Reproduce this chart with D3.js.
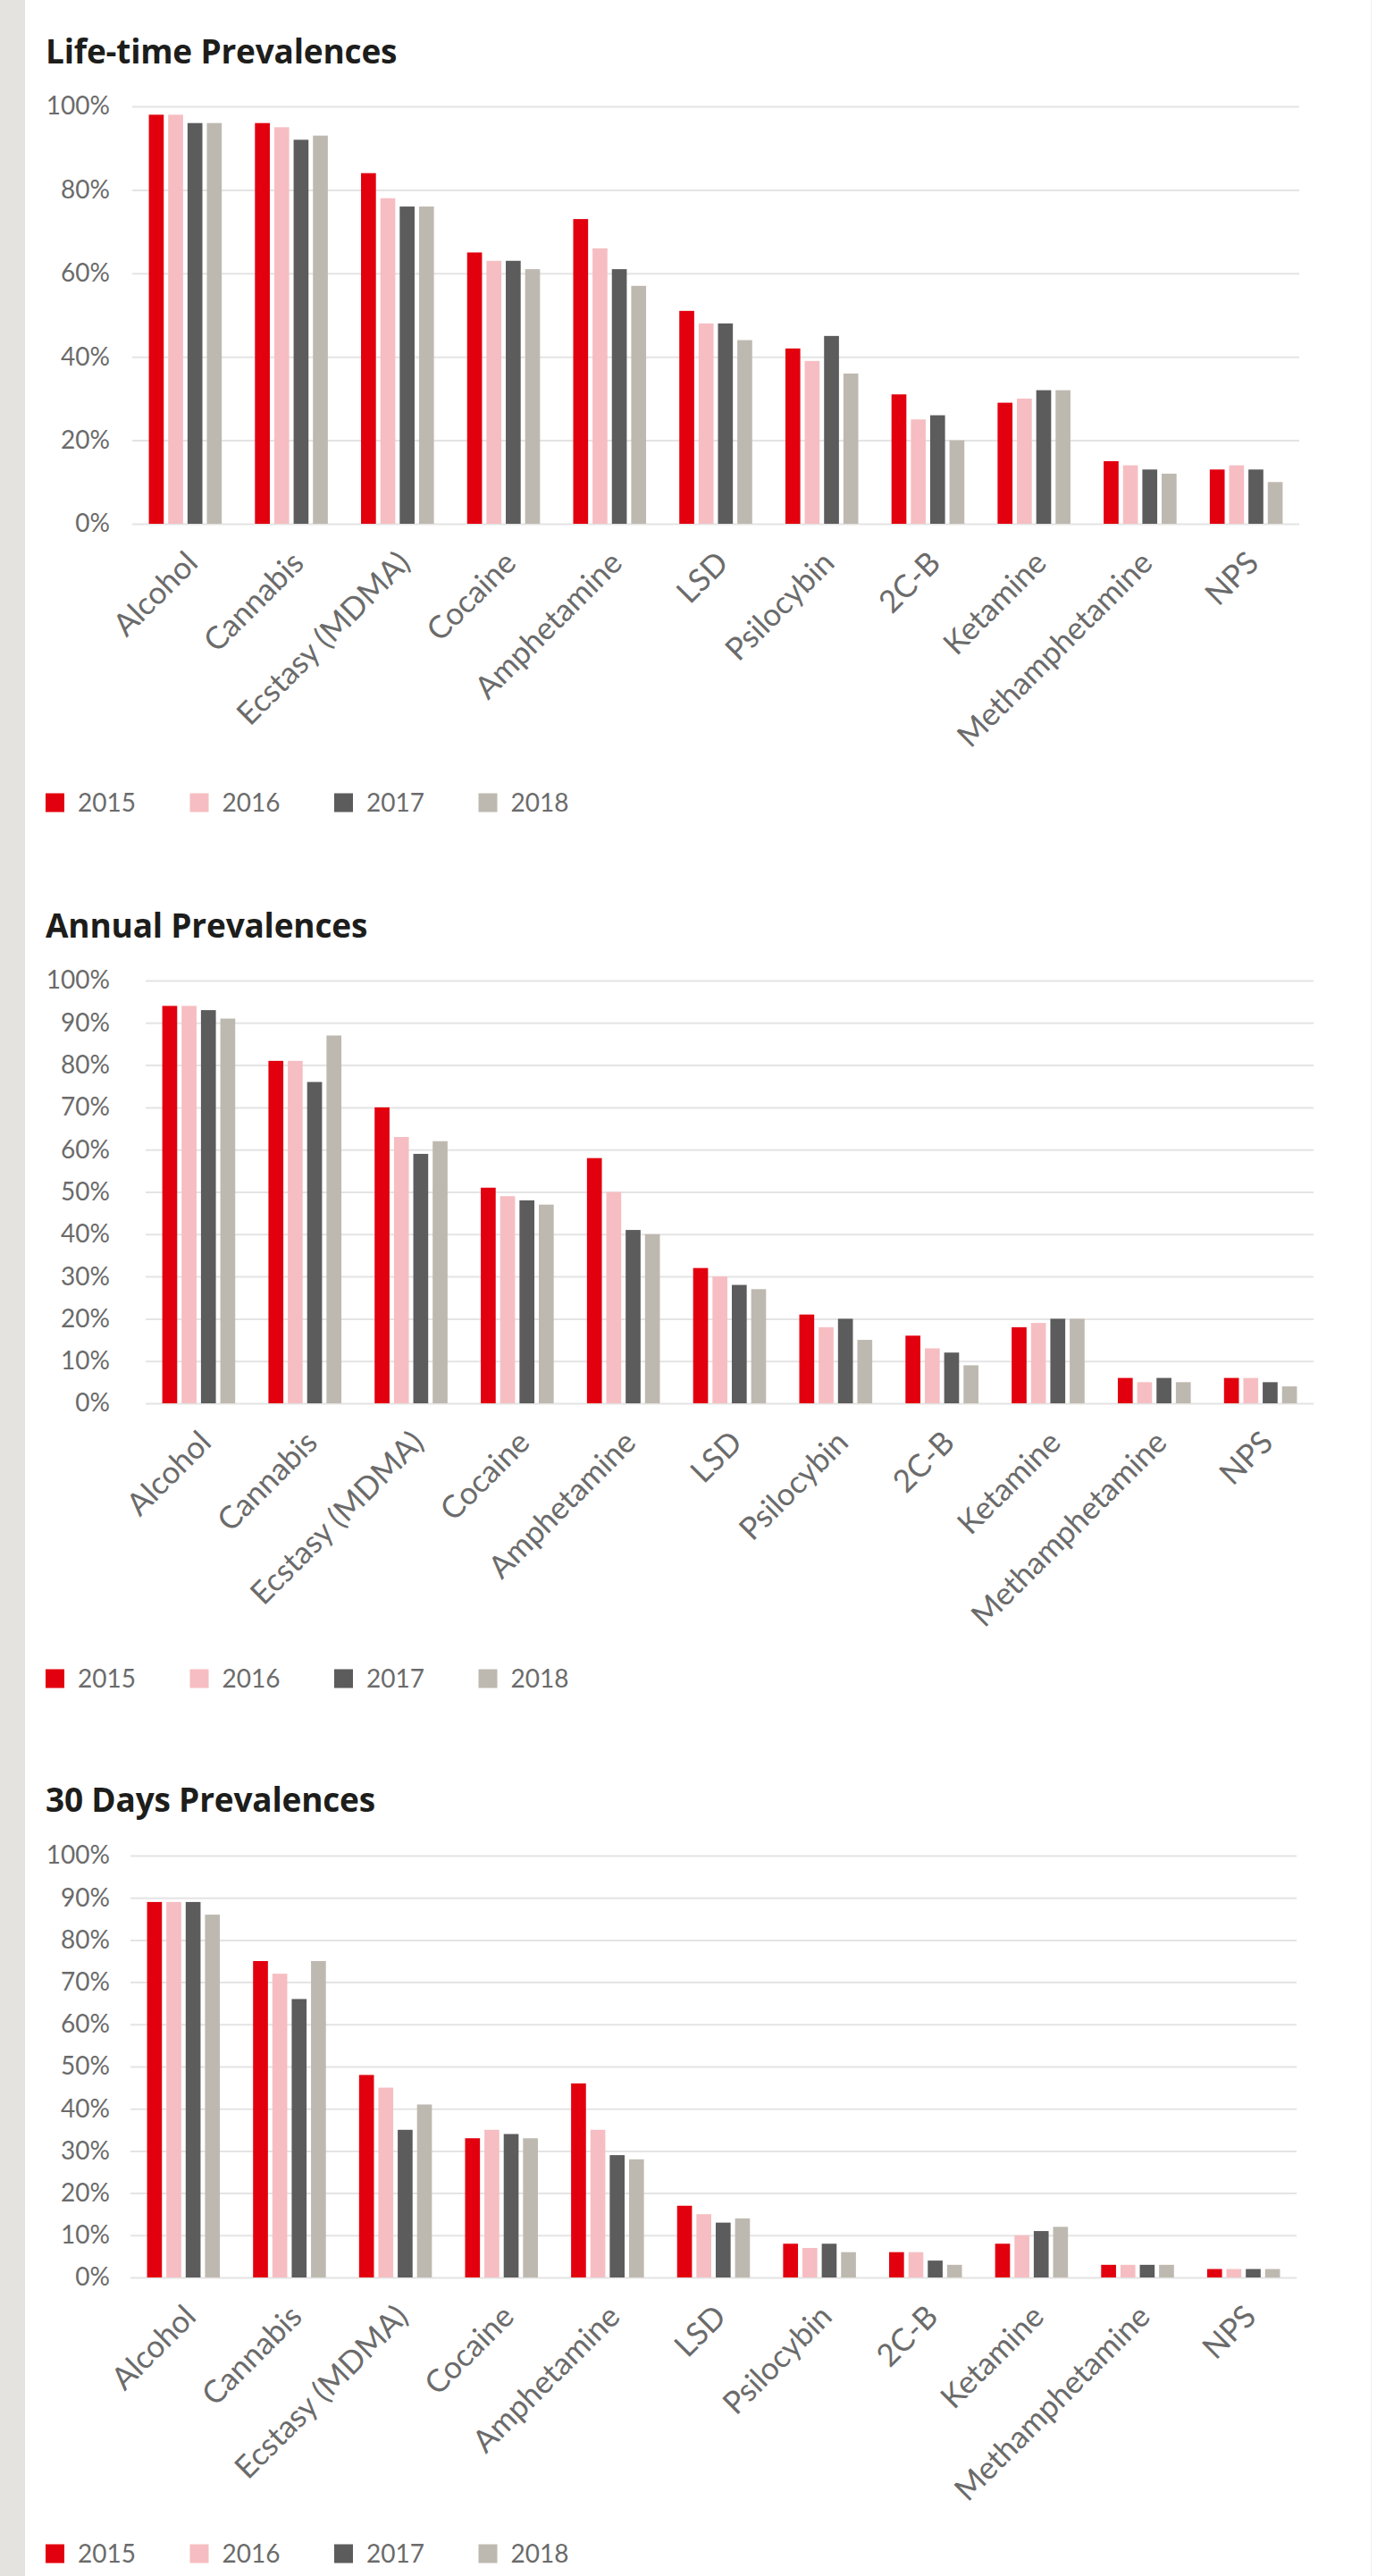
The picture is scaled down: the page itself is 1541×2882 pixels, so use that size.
<!DOCTYPE html>
<html>
<head>
<meta charset="utf-8">
<script src="https://cdn.jsdelivr.net/npm/d3@7"></script>
<style>
  html, body { margin: 0; padding: 0; background: #ffffff; }
  svg { display: block; }
</style>
</head>
<body>
<svg id="chart" width="1541" height="2882"></svg>
<script>
// ---------- DATA ----------
const categories = ["Alcohol", "Cannabis", "Ecstasy (MDMA)", "Cocaine", "Amphetamine", "LSD",
  "Psilocybin", "2C-B", "Ketamine", "Methamphetamine", "NPS"];
const years = ["2015", "2016", "2017", "2018"];
const yearColors = ["#e2000f", "#f6bec2", "#5c5c5c", "#beb9b0"];

const lifetime2015 = [98, 96, 84, 65, 73, 51, 42, 31, 29, 15, 13];
const lifetime2016 = [98, 95, 78, 63, 66, 48, 39, 25, 30, 14, 14];
const lifetime2017 = [96, 92, 76, 63, 61, 48, 45, 26, 32, 13, 13];
const lifetime2018 = [96, 93, 76, 61, 57, 44, 36, 20, 32, 12, 10];

const annual2015 = [94, 81, 70, 51, 58, 32, 21, 16, 18, 6, 6];
const annual2016 = [94, 81, 63, 49, 50, 30, 18, 13, 19, 5, 6];
const annual2017 = [93, 76, 59, 48, 41, 28, 20, 12, 20, 6, 5];
const annual2018 = [91, 87, 62, 47, 40, 27, 15, 9, 20, 5, 4];

const days2015 = [89, 75, 48, 33, 46, 17, 8, 6, 8, 3, 2];
const days2016 = [89, 72, 45, 35, 35, 15, 7, 6, 10, 3, 2];
const days2017 = [89, 66, 35, 34, 29, 13, 8, 4, 11, 3, 2];
const days2018 = [86, 75, 41, 33, 28, 14, 6, 3, 12, 3, 2];

const lifetimeTicks = [0, 20, 40, 60, 80, 100];
const tenTicks = [0, 10, 20, 30, 40, 50, 60, 70, 80, 90, 100];

const titles = ["Life-time Prevalences", "Annual Prevalences", "30 Days Prevalences"];

// ---------- LAYOUT ----------
const FONT = "Lato, 'Open Sans', sans-serif";
const TITLE_FONT = "'Open Sans', Lato, sans-serif";
const svg = d3.select("#chart");

svg.append("rect").attr("x", 0).attr("y", 0).attr("width", 1541).attr("height", 2882).attr("fill", "#ffffff");
svg.append("rect").attr("x", 0).attr("y", 0).attr("width", 28).attr("height", 2882).attr("fill", "#e4e3df");
svg.append("rect").attr("x", 1534).attr("y", 0).attr("width", 1).attr("height", 2882).attr("fill", "#f0f0f0");

const panels = [
  { title: titles[0], series: [lifetime2015, lifetime2016, lifetime2017, lifetime2018], ticks: lifetimeTicks,
    titleY: 71, top: 119, bottom: 586, left: 148, right: 1454, legendY: 898 },
  { title: titles[1], series: [annual2015, annual2016, annual2017, annual2018], ticks: tenTicks,
    titleY: 1049, top: 1097, bottom: 1570, left: 163, right: 1470, legendY: 1878 },
  { title: titles[2], series: [days2015, days2016, days2017, days2018], ticks: tenTicks,
    titleY: 2027, top: 2076, bottom: 2548, left: 146, right: 1451, legendY: 2857 }
];

panels.forEach(p => {
  const g = svg.append("g");

  g.append("text")
    .attr("x", 51).attr("y", p.titleY)
    .attr("font-family", TITLE_FONT).attr("font-weight", 700).attr("font-size", 37)
    .attr("letter-spacing", "-0.2")
    .attr("fill", "#1d1d1b")
    .text(p.title);

  const y = d3.scaleLinear().domain([0, 100]).range([p.bottom, p.top]);
  const x0 = d3.scaleBand().domain(categories).range([p.left, p.right])
    .paddingInner(0.313).paddingOuter(0.1565);
  const x1 = d3.scaleBand().domain(years).range([0, x0.bandwidth()]).paddingInner(0.23);

  // gridlines + y labels via axis
  const yAxis = d3.axisLeft(y).tickValues(p.ticks).tickFormat(d => d + "%")
    .tickSize(-(p.right - p.left)).tickPadding(p.left - 123);
  const ya = g.append("g").attr("transform", `translate(${p.left},0)`).call(yAxis);
  ya.select(".domain").remove();
  ya.selectAll(".tick line").attr("stroke", "#e4e4e4").attr("stroke-width", 2);
  ya.selectAll(".tick text").attr("font-family", FONT).attr("font-size", 28).attr("fill", "#6b6b6b");

  // bars
  const groups = g.selectAll("g.cat").data(categories).enter().append("g")
    .attr("transform", d => `translate(${x0(d)},0)`);
  groups.selectAll("rect").data((d, i) => years.map((yr, k) => ({ yr, k, v: p.series[k][i] })))
    .enter().append("rect")
    .attr("x", d => x1(d.yr))
    .attr("width", x1.bandwidth())
    .attr("y", d => y(d.v))
    .attr("height", d => y(0) - y(d.v))
    .attr("fill", d => yearColors[d.k]);

  // x labels
  const xAxis = d3.axisBottom(x0).tickSize(0).tickPadding(0);
  const xa = g.append("g").attr("transform", `translate(0,${p.bottom})`).call(xAxis);
  xa.select(".domain").remove();
  xa.selectAll(".tick text")
    .attr("font-family", FONT).attr("font-size", 35).attr("fill", "#6b6b6b")
    .attr("text-anchor", "end")
    .attr("dy", "0")
    .attr("y", 0)
    .attr("transform", "translate(16,46) rotate(-45)");

  // legend
  const lg = g.append("g").attr("transform", `translate(51,${p.legendY})`);
  const items = lg.selectAll("g").data(years).enter().append("g")
    .attr("transform", (d, i) => `translate(${i * 161.5},0)`);
  items.append("rect").attr("x", 0).attr("y", -10.5).attr("width", 21).attr("height", 21)
    .attr("fill", (d, i) => yearColors[i]);
  items.append("text").attr("x", 36).attr("y", 0).attr("dy", "0.35em")
    .attr("font-family", FONT).attr("font-size", 28).attr("fill", "#6b6b6b")
    .text(d => d);
});
</script>
</body>
</html>
